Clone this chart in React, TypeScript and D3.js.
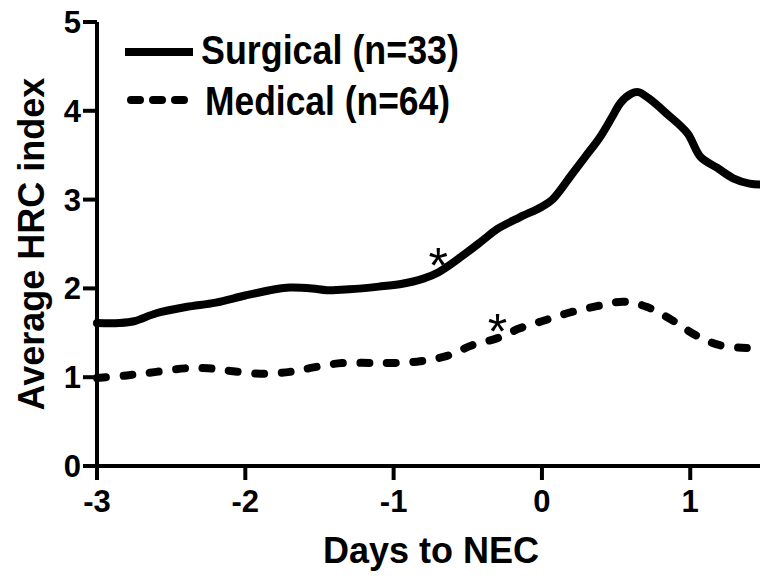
import React from "react";
import * as d3 from "d3";

const surgicalDays = [-3.0, -2.85, -2.75, -2.6, -2.4, -2.2, -2.0, -1.8, -1.7, -1.55, -1.45, -1.3, -1.1, -0.95, -0.8, -0.7, -0.55, -0.4, -0.3, -0.15, 0.0, 0.07, 0.2, 0.3, 0.39, 0.48, 0.53, 0.6, 0.65, 0.72, 0.84, 0.98, 1.07, 1.18, 1.29, 1.4, 1.5];
const surgicalValues = [1.61, 1.61, 1.63, 1.72, 1.79, 1.84, 1.92, 1.99, 2.01, 2.0, 1.98, 1.99, 2.02, 2.05, 2.11, 2.18, 2.35, 2.54, 2.67, 2.8, 2.92, 3.0, 3.28, 3.5, 3.7, 3.95, 4.09, 4.19, 4.21, 4.14, 3.97, 3.75, 3.48, 3.36, 3.24, 3.18, 3.17];

const medicalDays = [-3.0, -2.8, -2.6, -2.4, -2.25, -2.1, -1.9, -1.7, -1.54, -1.35, -1.15, -1.0, -0.82, -0.64, -0.47, -0.3, -0.15, 0.0, 0.17, 0.37, 0.55, 0.71, 0.88, 1.04, 1.2, 1.38, 1.5];
const medicalValues = [0.99, 1.02, 1.06, 1.1, 1.1, 1.07, 1.04, 1.06, 1.11, 1.16, 1.16, 1.16, 1.18, 1.24, 1.36, 1.44, 1.55, 1.63, 1.72, 1.8, 1.85, 1.79, 1.64, 1.47, 1.36, 1.33, 1.34];

const xTicks = [-3, -2, -1, 0, 1];
const yTicks = [0, 1, 2, 3, 4, 5];
const legendLabels = ["Surgical (n=33)", "Medical (n=64)"];
const asteriskDays = [-0.7, -0.3];
const asteriskValues = [2.39, 1.64];

const FONT = "'Liberation Sans', Arial, Helvetica, sans-serif";

export default function App() {
  const W = 760;
  const H = 579;
  const x = d3.scaleLinear().domain([-3, 1.5]).range([97, 764.4]);
  const y = d3.scaleLinear().domain([0, 5]).range([466, 22]);

  const line = d3
    .line<[number, number]>()
    .x((d) => x(d[0]))
    .y((d) => y(d[1]))
    .curve(d3.curveCatmullRom.alpha(0.5));

  const surg = surgicalDays.map((d, i) => [d, surgicalValues[i]] as [number, number]);
  const med = medicalDays.map((d, i) => [d, medicalValues[i]] as [number, number]);

  return (
    <svg
      width={W}
      height={H}
      viewBox={`0 0 ${W} ${H}`}
      style={{ position: "absolute", left: 0, top: 0, background: "#fff" }}
    >
      <defs>
        <clipPath id="plotclip">
          <rect x={0} y={0} width={W} height={H} />
        </clipPath>
      </defs>
      <rect x={0} y={0} width={W} height={H} fill="#fff" />

      {/* axes */}
      <line x1={x(-3)} x2={x(-3)} y1={y(5)} y2={y(0) + 14} stroke="#000" strokeWidth={4} />
      <line x1={x(-3) - 14} x2={W} y1={y(0)} y2={y(0)} stroke="#000" strokeWidth={4} />
      {yTicks.map((t) => (
        <g key={"y" + t}>
          <line x1={x(-3) - 14} x2={x(-3)} y1={y(t)} y2={y(t)} stroke="#000" strokeWidth={4} />
          <text
            x={x(-3) - 16}
            y={y(t) + 11}
            textAnchor="end"
            fontFamily={FONT}
            fontWeight="bold"
            fontSize={31}
            fill="#000"
          >
            {t}
          </text>
        </g>
      ))}
      {xTicks.map((t) => (
        <g key={"x" + t}>
          <line x1={x(t)} x2={x(t)} y1={y(0)} y2={y(0) + 14} stroke="#000" strokeWidth={4} />
          <text
            x={x(t)}
            y={512}
            textAnchor="middle"
            fontFamily={FONT}
            fontWeight="bold"
            fontSize={31}
            fill="#000"
          >
            {t}
          </text>
        </g>
      ))}

      {/* axis titles */}
      <text
        x={431}
        y={563}
        textAnchor="middle"
        fontFamily={FONT}
        fontWeight="bold"
        fontSize={36}
        fill="#000"
      >
        Days to NEC
      </text>
      <text
        transform={`translate(44, ${(y(0) + y(5)) / 2}) rotate(-90)`}
        textAnchor="middle"
        fontFamily={FONT}
        fontWeight="bold"
        fontSize={36}
        fill="#000"
      >
        Average HRC index
      </text>

      {/* lines */}
      <g clipPath="url(#plotclip)">
        <path d={line(surg) || ""} fill="none" stroke="#000" strokeWidth={8} strokeLinejoin="round" strokeLinecap="round" />
        <path
          d={line(med) || ""}
          fill="none"
          stroke="#000"
          strokeWidth={8}
          strokeDasharray="9 17.5"
          strokeLinecap="round"
          strokeLinejoin="round"
        />
      </g>

      {/* asterisks */}
      {asteriskDays.map((d, i) => (
        <text
          key={"a" + i}
          x={x(d)}
          y={y(asteriskValues[i]) + 29}
          textAnchor="middle"
          fontFamily={FONT}
          fontSize={50}
          fill="#000"
        >
          *
        </text>
      ))}

      {/* legend */}
      <line x1={125} x2={193} y1={52} y2={52} stroke="#000" strokeWidth={8} />
      <line x1={131} x2={195} y1={100} y2={100} stroke="#000" strokeWidth={8} strokeDasharray="9 13" strokeLinecap="round" />
      <text x={201} y={64} fontFamily={FONT} fontWeight="bold" fontSize={41} textLength={258} lengthAdjust="spacingAndGlyphs" fill="#000">
        {legendLabels[0]}
      </text>
      <text x={205} y={115} fontFamily={FONT} fontWeight="bold" fontSize={41} textLength={245} lengthAdjust="spacingAndGlyphs" fill="#000">
        {legendLabels[1]}
      </text>
    </svg>
  );
}
